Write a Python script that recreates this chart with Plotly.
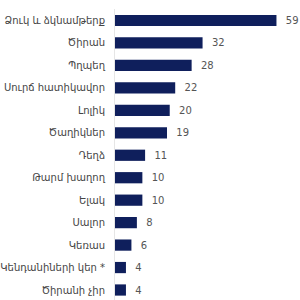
import plotly.graph_objects as go

categories = ["Ձուկ և ձկնամթերք", "Ծիրան", "Պղպեղ", "Սուրճ հատիկավոր", "Լոլիկ", "Ծաղիկներ",
              "Դեղձ", "Թարմ խաղող", "Ելակ", "Սալոր", "Կեռաս", "Կենդանիների կեր *", "Ծիրանի չիր"]
values = [59, 32, 28, 22, 20, 19, 11, 10, 10, 8, 6, 4, 4]

fig = go.Figure(go.Bar(
    x=values, y=categories, orientation="h",
    marker=dict(color="#0f1f5c", line=dict(width=0)),
    width=0.5,
    text=[f"  {v}" for v in values], textposition="outside",
    textfont=dict(family="DejaVu Sans", size=10, color="#555555"),
    cliponaxis=False,
))

fig.update_layout(
    width=300, height=300,
    margin=dict(l=110, r=0, t=9, b=0),
    paper_bgcolor="white", plot_bgcolor="white",
    showlegend=False,
    font=dict(family="DejaVu Sans", size=10, color="#444444"),
    xaxis=dict(range=[0, 67.6], visible=False),
    yaxis=dict(range=[12.445, -0.512], showline=True, linecolor="#e6e6e6", linewidth=1,
               ticks="outside", ticklen=7, tickcolor="rgba(0,0,0,0)", showgrid=False,
               tickfont=dict(family="DejaVu Sans", size=10, color="#444444")),
)

fig.write_html("out.html")
